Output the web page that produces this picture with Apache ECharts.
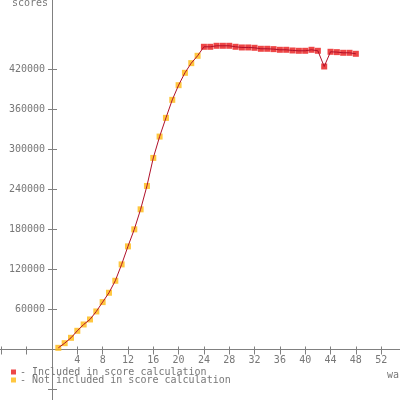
<!DOCTYPE html>
<html><head><meta charset="utf-8">
<script src="https://cdn.jsdelivr.net/npm/echarts@6/dist/echarts.min.js"></script>
<style>html,body{margin:0;padding:0;background:#fff}#c{width:400px;height:400px}</style>
</head><body><div id="c"></div>
<script>
const notIncludedWeeks = [1,2,3,4,5,6,7,8,9,10,11,12,13,14,15,16,17,18,19,20,21,22,23];
const notIncludedScores = [2500,9500,17500,28000,37500,45000,57000,71000,85000,103000,127500,154500,180000,210000,245000,287000,319000,347000,374000,396000,414500,429000,440000];
const includedWeeks = [24,25,26,27,28,29,30,31,32,33,34,35,36,37,38,39,40,41,42,43,44,45,46,47,48];
const includedScores = [453500,453500,455000,455000,455000,453500,452500,452500,452000,450500,450500,450000,449000,449000,448000,447500,447500,449000,447500,424000,446000,445500,444500,444500,443000];
const xTickLabels = [4,8,12,16,20,24,28,32,36,40,44,48,52];
const xTickUnlabeled = [-8,-4];
const yTickLabels = [60000,120000,180000,240000,300000,360000,420000];
const yTickUnlabeled = [-60000];
const seriesNames = ['Included in score calculation','Not included in score calculation'];
const yAxisName = 'scores';
const xAxisName = 'wa';

const FONT = '"DejaVu Sans Mono", monospace';
const AX = '#808080';
const TXT = '#777777';
// pixel geometry of the plot (400x400 canvas)
const X0 = 52, PXW = 6.33;           // x of week 0, pixels per week
const Y0 = 349.5, PYV = 40.05 / 60000; // y of score 0, pixels per score unit
const xMin = -X0 / PXW, xMax = (400 - X0) / PXW;
const yMax = Y0 / PYV, yMin = -(400 - Y0) / PYV;

const pair = (xs, ys) => xs.map((x, i) => [x, ys[i]]);
const allPoints = pair(notIncludedWeeks, notIncludedScores).concat(pair(includedWeeks, includedScores));
const xTicks = xTickUnlabeled.concat(xTickLabels);
const yTicks = yTickUnlabeled.concat(yTickLabels);
const noLabel = { show: false };
const noLine = { show: false };

function tickAxis(type, extra) {
  return Object.assign({ type: 'value', gridIndex: 0, splitLine: { show: false }, axisLabel: noLabel }, extra);
}

const chart = echarts.init(document.getElementById('c'), null, { renderer: 'canvas' });
chart.setOption({
  animation: false,
  backgroundColor: '#ffffff',
  grid: [
    { left: 0, right: 0, top: 0, bottom: 0, outerBoundsMode: 'none' },
    { left: X0, right: 0, top: 0, bottom: 400 - Y0, outerBoundsMode: 'none' }
  ],
  xAxis: [
    tickAxis('x', { min: xMin, max: xMax, position: 'bottom',
      axisLine: { show: true, onZero: true, lineStyle: { color: AX, width: 1 } },
      axisTick: { customValues: xTicks, length: 5, lineStyle: { color: AX } } }),
    tickAxis('x', { min: xMin, max: xMax, position: 'top',
      axisLine: { show: false, onZero: true },
      axisTick: { customValues: xTicks, length: 3, lineStyle: { color: AX } } }),
    { type: 'value', gridIndex: 1, min: 0, max: xMax, position: 'bottom',
      axisLine: noLine, axisTick: { show: false }, splitLine: { show: false },
      axisLabel: { customValues: xTickLabels, margin: 6, color: TXT, fontFamily: FONT, fontSize: 10, formatter: v => String(v) } }
  ],
  yAxis: [
    tickAxis('y', { min: yMin, max: yMax, position: 'left',
      axisLine: { show: true, onZero: true, lineStyle: { color: AX, width: 1 } },
      axisTick: { customValues: yTicks, length: 4, lineStyle: { color: AX } } }),
    tickAxis('y', { min: yMin, max: yMax, position: 'right',
      axisLine: { show: false, onZero: true },
      axisTick: { customValues: yTicks, length: 5, lineStyle: { color: AX } } }),
    { type: 'value', gridIndex: 1, min: 0, max: yMax, position: 'left',
      axisLine: noLine, axisTick: { show: false }, splitLine: { show: false },
      axisLabel: { customValues: yTickLabels, margin: 7, color: TXT, fontFamily: FONT, fontSize: 10, formatter: v => String(v) } }
  ],
  legend: {
    data: seriesNames, orient: 'vertical', left: 11, top: 367, padding: 0,
    itemWidth: 5, itemHeight: 5, itemGap: -2, icon: 'rect', selectedMode: false,
    formatter: '- {name}',
    textStyle: { fontFamily: FONT, fontSize: 10, color: TXT, padding: [0, 0, 0, -1] }
  },
  graphic: [
    { type: 'text', left: 12, top: -2, style: { text: yAxisName, fontFamily: FONT, fontSize: 10, fill: TXT } },
    { type: 'text', left: 387, top: 370, style: { text: xAxisName, fontFamily: FONT, fontSize: 10, fill: TXT } }
  ],
  series: [
    { name: seriesNames[1], type: 'scatter', xAxisIndex: 0, yAxisIndex: 0, symbol: 'rect', symbolSize: 6,
      itemStyle: { color: '#ffb90f' }, data: pair(notIncludedWeeks, notIncludedScores) },
    { name: seriesNames[0], type: 'scatter', xAxisIndex: 0, yAxisIndex: 0, symbol: 'rect', symbolSize: 6,
      itemStyle: { color: '#e81818' }, data: pair(includedWeeks, includedScores) },
    { name: 'line', type: 'line', xAxisIndex: 0, yAxisIndex: 0, showSymbol: false, symbol: 'none', clip: false,
      lineStyle: { color: '#b0102a', width: 1 }, data: allPoints }
  ]
});
</script></body></html>
